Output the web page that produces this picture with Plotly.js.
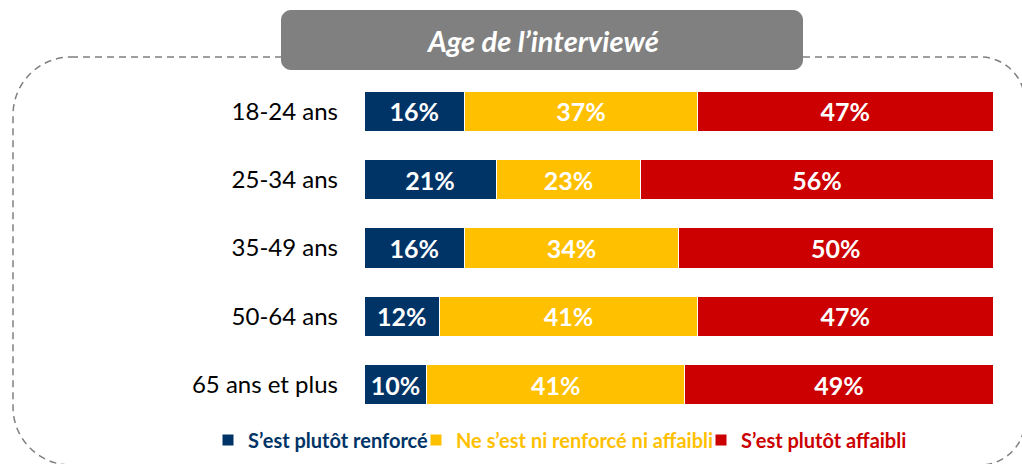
<!DOCTYPE html>
<html>
<head>
<meta charset="utf-8">
<script src="https://cdn.plot.ly/plotly-3.0.1.min.js"></script>
<style>html,body{margin:0;padding:0;background:#fff;}#chart{width:1022px;height:464px;}</style>
</head>
<body>
<div id="chart"></div>
<script>
// ---- data ----
const categories = ["18-24 ans", "25-34 ans", "35-49 ans", "50-64 ans", "65 ans et plus"];
const seriesNames = ["S’est plutôt renforcé", "Ne s’est ni renforcé ni affaibli", "S’est plutôt affaibli"];
const renforce = [16, 21, 16, 12, 10];
const niNi = [37, 23, 34, 41, 41];
const affaibli = [47, 56, 50, 47, 49];
const chartTitle = "Age de l’interviewé";

// ---- layout helpers ----
const W = 1022, H = 464;
const M = {l: 364, r: 29, t: 77, b: 45, autoexpand: false};
const PW = W - M.l - M.r, PH = H - M.t - M.b;
const px = x => (x - M.l) / PW;
const py = y => (H - M.b - y) / PH;
const colors = ["#003366", "#FFC000", "#CC0000"];
const legendIds = ["legend", "legend2", "legend3"];
const legendX = [208, 416, 701];

function roundRect(x0, y0, x1, y1, rl, rr) {
  const k = 0.5523;
  const P = (x, y) => px(x) + "," + py(y);
  return "M" + P(x0 + rl, y0) +
    " L" + P(x1 - rr, y0) +
    " C" + P(x1 - rr + rr * k, y0) + " " + P(x1, y0 + rr - rr * k) + " " + P(x1, y0 + rr) +
    " L" + P(x1, y1 - rr) +
    " C" + P(x1, y1 - rr + rr * k) + " " + P(x1 - rr + rr * k, y1) + " " + P(x1 - rr, y1) +
    " L" + P(x0 + rl, y1) +
    " C" + P(x0 + rl - rl * k, y1) + " " + P(x0, y1 - rl + rl * k) + " " + P(x0, y1 - rl) +
    " L" + P(x0, y0 + rl) +
    " C" + P(x0, y0 + rl - rl * k) + " " + P(x0 + rl - rl * k, y0) + " " + P(x0 + rl, y0) + " Z";
}

const values = [renforce, niNi, affaibli];
const traces = values.map((v, i) => ({
  type: "bar",
  orientation: "h",
  y: categories,
  x: v,
  name: seriesNames[i],
  legend: legendIds[i],
  marker: {color: colors[i], line: {color: "#ffffff", width: 1}},
  text: v.map(d => d + "%"),
  textposition: "inside",
  insidetextanchor: "middle",
  constraintext: "none",
  textfont: {family: "Lato", size: 25, color: "#ffffff", weight: "bold"},
  hoverinfo: "none"
}));

const layout = {
  width: W, height: H,
  margin: M,
  paper_bgcolor: "#ffffff",
  plot_bgcolor: "#ffffff",
  barmode: "stack",
  bargap: 0.415,
  font: {family: "Lato", color: "#000000"},
  xaxis: {range: [0, 100], visible: false, fixedrange: true},
  yaxis: {
    autorange: "reversed",
    showline: false, showgrid: false, zeroline: false, ticks: "",
    ticklabelstandoff: 25,
    tickfont: {family: "Lato", size: 24, color: "#000000"},
    fixedrange: true
  },
  showlegend: true,
  shapes: [
    {type: "path", xref: "paper", yref: "paper", path: roundRect(13, 57, 1025, 465, 58, 45),
     line: {color: "#7f7f7f", width: 1.5, dash: "7px,5px"}, fillcolor: "rgba(0,0,0,0)", layer: "above"},
    {type: "path", xref: "paper", yref: "paper", path: roundRect(281, 10, 803, 70, 10, 10),
     line: {width: 0}, fillcolor: "#808080", layer: "above"}
  ],
  annotations: [
    {xref: "paper", yref: "paper", x: px(542), y: py(41), xanchor: "center", yanchor: "middle",
     text: chartTitle, showarrow: false,
     font: {family: "Lato", size: 29, color: "#ffffff", weight: "bold", style: "italic"}}
  ]
};
legendIds.forEach((id, i) => {
  layout[id] = {
    orientation: "h",
    x: px(legendX[i]), xanchor: "left",
    y: py(440), yanchor: "middle",
    font: {family: "Lato", size: 20, weight: "bold", color: colors[i]},
    bgcolor: "rgba(0,0,0,0)",
    itemclick: false, itemdoubleclick: false,
    itemwidth: 30
  };
});

Plotly.newPlot("chart", traces, layout, {displayModeBar: false, staticPlot: true});
</script>
</body>
</html>
